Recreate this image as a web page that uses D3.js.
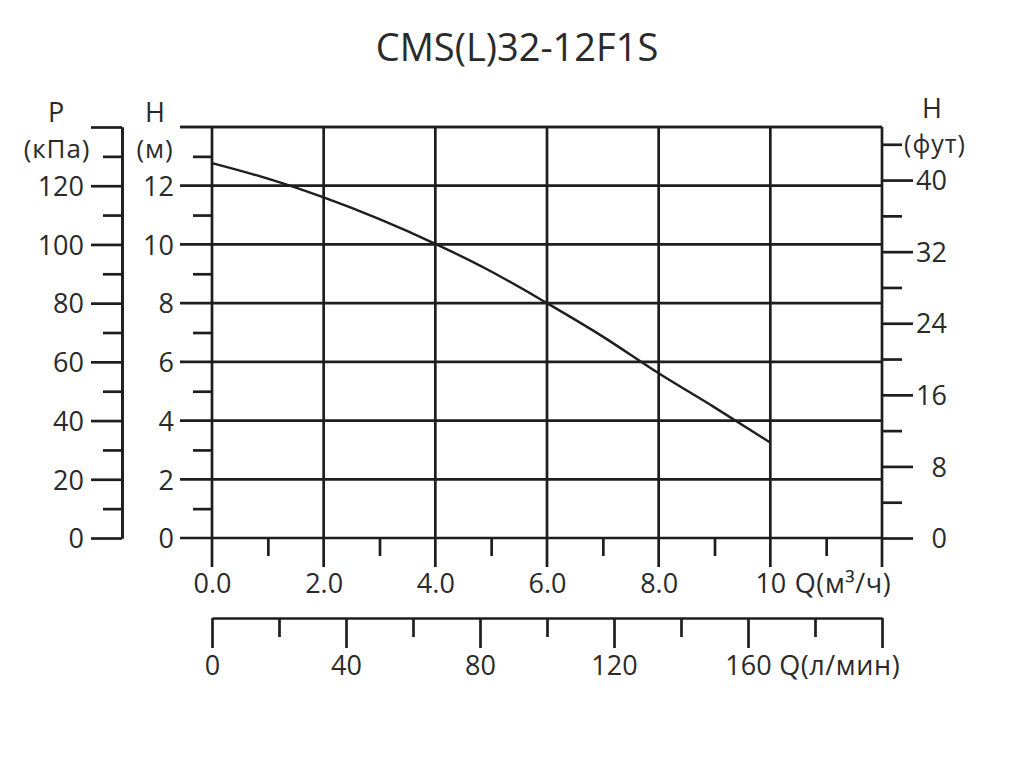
<!DOCTYPE html>
<html>
<head>
<meta charset="utf-8">
<script src="https://cdn.jsdelivr.net/npm/d3@7"></script>
<style>
  html,body{margin:0;padding:0;background:#fff;}
  svg text{font-family:"Open Sans","DejaVu Sans",sans-serif;fill:#2a2a2a;}
</style>
</head>
<body>
<svg id="chart" width="1018" height="758"></svg>
<script>
// ---- data ----
const title = "CMS(L)32-12F1S";
const flowQ = [0, 1, 2, 3, 4, 5, 6, 7, 8, 9, 10];                                   // m³/h
const headH = [12.77, 12.24, 11.6, 10.86, 10.02, 9.08, 8.0, 6.86, 5.61, 4.45, 3.25]; // m
const hTicks = [0, 2, 4, 6, 8, 10, 12];
const pTicks = [0, 20, 40, 60, 80, 100, 120];
const ftTicks = [0, 8, 16, 24, 32, 40];
const qTicks = [0, 2, 4, 6, 8, 10];
const qTickLabels = ["0.0", "2.0", "4.0", "6.0", "8.0", "10"];
const lTicks = [0, 40, 80, 120, 160];
const labels = {
  p: "P", pUnit: "(кПа)", h: "H", hUnit: "(м)", hr: "H", hrUnit: "(фут)",
  q: "Q(м³/ч)", ql: "Q(л/мин)"
};

// ---- layout ----
const svg = d3.select("#chart");
const X0 = 212, X1 = 882, Y0 = 538, Y1 = 127;
const STROKE = "#1e1e1e", SW = 2.7;
const x = d3.scaleLinear().domain([0, 12]).range([X0, X1]);
const xl = d3.scaleLinear().domain([0, 200]).range([X0, X1]);
const y = d3.scaleLinear().domain([0, 14]).range([Y0, Y1]);
const yP = d3.scaleLinear().domain([0, 140]).range([Y0, Y1]);
const yFt = d3.scaleLinear().domain([0, 14 / 0.3048]).range([Y0, Y1]);
const PAX = 122, LBL = 27;

svg.append("text").attr("x", 517).attr("y", 61).attr("text-anchor", "middle")
  .style("font-size", "38px").text(title);

function styleAxis(g) {
  g.selectAll("path.domain").attr("stroke", STROKE).attr("stroke-width", SW);
  g.selectAll(".tick line").attr("stroke", STROKE).attr("stroke-width", SW);
  g.selectAll(".tick text").style("font-size", LBL + "px").attr("fill", "#2a2a2a")
    .style("font-family", '"Open Sans","DejaVu Sans",sans-serif');
}

// gridlines
const grid = svg.append("g");
grid.selectAll("line.h").data(d3.range(0, 15, 2)).join("line")
  .attr("x1", X0 - 32).attr("x2", X1).attr("y1", d => y(d)).attr("y2", d => y(d))
  .attr("stroke", STROKE).attr("stroke-width", SW);
grid.selectAll("line.v").data(d3.range(0, 13, 2)).join("line")
  .attr("y1", Y1).attr("y2", Y0 + 29).attr("x1", d => x(d)).attr("x2", d => x(d))
  .attr("stroke", STROKE).attr("stroke-width", SW);

// P axis (left outer)
const pMinor = svg.append("g").attr("transform", `translate(${PAX},0)`)
  .call(d3.axisLeft(yP).tickValues(d3.range(10, 140, 20)).tickSize(19).tickSizeOuter(0).tickFormat(""));
styleAxis(pMinor);
const pMajor = svg.append("g").attr("transform", `translate(${PAX},0)`)
  .call(d3.axisLeft(yP).tickValues(d3.range(0, 141, 20)).tickSize(31).tickSizeOuter(0).tickPadding(7)
    .tickFormat(d => pTicks.includes(d) ? d : ""));
styleAxis(pMajor);
pMajor.selectAll(".tick text").attr("dy", "0.36em");

// H axis left (minor + labels)
const hMinor = svg.append("g").attr("transform", `translate(${X0},0)`)
  .call(d3.axisLeft(y).tickValues(d3.range(1, 14, 2)).tickSize(19).tickSizeOuter(0).tickFormat(""));
styleAxis(hMinor);
hMinor.select("path.domain").remove();
const hLab = svg.append("g").attr("transform", `translate(${X0},0)`)
  .call(d3.axisLeft(y).tickValues(hTicks).tickSize(32).tickPadding(6).tickSizeOuter(0));
styleAxis(hLab);
hLab.select("path.domain").remove();
hLab.selectAll(".tick line").remove();
hLab.selectAll(".tick text").attr("dy", "0.36em");

// feet axis right
const ftMinor = svg.append("g").attr("transform", `translate(${X1},0)`)
  .call(d3.axisRight(yFt).tickValues(d3.range(4, 45, 8)).tickSize(20).tickSizeOuter(0).tickFormat(""));
styleAxis(ftMinor);
ftMinor.select("path.domain").remove();
const ftMajor = svg.append("g").attr("transform", `translate(${X1},0)`)
  .call(d3.axisRight(yFt).tickValues(ftTicks).tickSize(31).tickSizeOuter(0));
styleAxis(ftMajor);
ftMajor.select("path.domain").remove();
ftMajor.selectAll(".tick text").attr("text-anchor", "end").attr("x", 65).attr("dy", "0.36em");

// top frame line
svg.append("line").attr("x1", X0 - 32).attr("x2", X1).attr("y1", Y1).attr("y2", Y1)
  .attr("stroke", STROKE).attr("stroke-width", SW);

// Q axis (m³/h)
const qMinor = svg.append("g").attr("transform", `translate(0,${Y0})`)
  .call(d3.axisBottom(x).tickValues(d3.range(1, 12, 2)).tickSize(18).tickSizeOuter(0).tickFormat(""));
styleAxis(qMinor);
qMinor.select("path.domain").remove();
const qMajor = svg.append("g").attr("transform", `translate(0,${Y0})`)
  .call(d3.axisBottom(x).tickValues(qTicks).tickSize(29).tickPadding(8)
    .tickFormat((d, i) => qTickLabels[i]));
styleAxis(qMajor);
qMajor.select("path.domain").remove();
qMajor.selectAll(".tick line").remove();
qMajor.selectAll(".tick text").attr("y", 55).attr("dy", "0");
{
  const last = qMajor.selectAll(".tick text").filter((d, i) => i === qTicks.length - 1).node();
  const w = last.getComputedTextLength();
  svg.append("text").attr("x", x(qTicks[qTicks.length - 1]) + w / 2 + 9).attr("y", Y0 + 55)
    .style("font-size", LBL + "px").style("letter-spacing", "0.6px").text(labels.q);
}

// l/min axis
const LY = 618;
const lMinor = svg.append("g").attr("transform", `translate(0,${LY})`)
  .call(d3.axisBottom(xl).tickValues(d3.range(20, 200, 40)).tickSize(19).tickSizeOuter(0).tickFormat(""));
styleAxis(lMinor);
const lMajor = svg.append("g").attr("transform", `translate(0,${LY})`)
  .call(d3.axisBottom(xl).tickValues(d3.range(0, 201, 40)).tickSize(30).tickSizeOuter(0).tickPadding(8)
    .tickFormat(d => lTicks.includes(d) ? d : ""));
styleAxis(lMajor);
lMajor.select("path.domain").remove();
lMajor.selectAll(".tick text").attr("y", 57).attr("dy", "0");
{
  const last = lMajor.selectAll(".tick text").filter(d => d === lTicks[lTicks.length - 1]).node();
  const w = last.getComputedTextLength();
  svg.append("text").attr("x", xl(lTicks[lTicks.length - 1]) + w / 2 + 8).attr("y", LY + 57)
    .style("font-size", LBL + "px").style("letter-spacing", "0.6px").text(labels.ql);
}

// axis titles
function t(txt, xx, yy, size, ls) {
  svg.append("text").attr("x", xx).attr("y", yy).attr("text-anchor", "middle")
    .style("font-size", size + "px").style("letter-spacing", (ls || 0) + "px").text(txt);
}
t(labels.p, 56, 122, 27);
t(labels.pUnit, 57, 158, 26, 0.9);
t(labels.h, 155, 122, 27);
t(labels.hUnit, 155, 158, 26, 0.9);
t(labels.hr, 932, 118, 27);
t(labels.hrUnit, 935, 153, 25, 1);

// curve
const pts = flowQ.map((q, i) => [q, headH[i]]);
svg.append("path").datum(pts)
  .attr("d", d3.line().x(d => x(d[0])).y(d => y(d[1])).curve(d3.curveMonotoneX))
  .attr("fill", "none").attr("stroke", STROKE).attr("stroke-width", 2.4);
</script>
</body>
</html>
